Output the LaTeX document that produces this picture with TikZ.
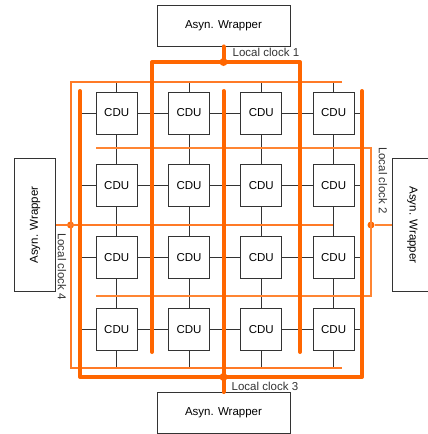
\documentclass[tikz,border=0pt]{standalone}
\usepackage{fontspec}
\setmainfont{Liberation Sans}
\usepackage{tikz}
\usetikzlibrary{positioning, calc}
\definecolor{clockmain}{HTML}{FF6600}
\definecolor{clockthin}{HTML}{FF7A26}
\definecolor{clockfine}{HTML}{FF8533}
\definecolor{darkgray}{HTML}{333333}
\tikzset{
  cdu/.style={
    rectangle, minimum width=41pt, minimum height=42pt, inner sep=0pt,
    draw=darkgray, line width=0.9pt, fill=white,
    font=\fontsize{11.5}{13}\selectfont,
  },
  wrapper/.style={
    rectangle, minimum width=133pt, minimum height=41pt, inner sep=0pt,
    draw=darkgray, line width=0.9pt, fill=white,
    font=\fontsize{11.5}{13}\selectfont,
  },
  link/.style={draw=darkgray, line width=0.8pt},
  clkmain/.style={draw=clockmain, line width=4pt, line cap=round, line join=round},
  clkthin/.style={draw=clockthin, line width=2pt},
  clkfine/.style={draw=clockfine, line width=1.6pt},
  clkdot/.style={circle, fill=clockmain, inner sep=0pt, minimum size=8pt},
  clklabel/.style={font=\fontsize{11.5}{13}\selectfont, inner sep=0pt, text=darkgray},
}

\begin{document}
\begin{tikzpicture}[x=1pt, y=-1pt, node distance=30pt]
  \useasboundingbox (0,0) rectangle (428,434);

  % CDU grid
  \node[cdu] (cdu11) at (116.7,113) {CDU};
  \node[cdu, right=30.4pt of cdu11] (cdu12) {CDU};
  \node[cdu, right=30.4pt of cdu12] (cdu13) {CDU};
  \node[cdu, right=30.4pt of cdu13] (cdu14) {CDU};
  \node[cdu, below=29.3pt of cdu11] (cdu21) {CDU};
  \node[cdu, right=30.4pt of cdu21] (cdu22) {CDU};
  \node[cdu, right=30.4pt of cdu22] (cdu23) {CDU};
  \node[cdu, right=30.4pt of cdu23] (cdu24) {CDU};
  \node[cdu, below=29.3pt of cdu21] (cdu31) {CDU};
  \node[cdu, right=30.4pt of cdu31] (cdu32) {CDU};
  \node[cdu, right=30.4pt of cdu32] (cdu33) {CDU};
  \node[cdu, right=30.4pt of cdu33] (cdu34) {CDU};
  \node[cdu, below=29.3pt of cdu31] (cdu41) {CDU};
  \node[cdu, right=30.4pt of cdu41] (cdu42) {CDU};
  \node[cdu, right=30.4pt of cdu42] (cdu43) {CDU};
  \node[cdu, right=30.4pt of cdu43] (cdu44) {CDU};

  % wrappers
  \node[wrapper] (wrapN) at (223.5,25.5) {Asyn. Wrapper};
  \node[wrapper] (wrapS) at (223.5,413) {Asyn. Wrapper};
  \node[wrapper, rotate=90] (wrapW) at (35,225) {Asyn. Wrapper};
  \node[wrapper, rotate=-90] (wrapE) at (412.5,225) {Asyn. Wrapper};

  % clock taps
  \node[clkdot] (dotN) at (223.5,62) {};
  \node[clkdot] (dotS) at (223.5,377) {};
  \node[clkdot, minimum size=7pt] (dotW) at (70.5,225) {};
  \node[clkdot, minimum size=7pt] (dotE) at (371,225) {};

  \coordinate (k1w) at (152,352);
  \coordinate (k1e) at (300,352);
  \coordinate (k3w) at (80,91);
  \coordinate (k3e) at (362,91);
  \coordinate (k3m) at (223.5,91);
  \coordinate (k4n) at (342,82);
  \coordinate (k4s) at (342,368);
  \coordinate (k4m) at (333,225);
  \coordinate (k2n) at (96,148);
  \coordinate (k2s) at (96,296);

  % mesh links
  \draw[link] (cdu11 -| k3w) -- (cdu11) -- (cdu12) -- (cdu13) -- (cdu14) -- (cdu14 -| k3e);
  \draw[link] (cdu21 -| k3w) -- (cdu21) -- (cdu22) -- (cdu23) -- (cdu24) -- (cdu24 -| k3e);
  \draw[link] (cdu31 -| k3w) -- (cdu31) -- (cdu32) -- (cdu33) -- (cdu34) -- (cdu34 -| k3e);
  \draw[link] (cdu41 -| k3w) -- (cdu41) -- (cdu42) -- (cdu43) -- (cdu44) -- (cdu44 -| k3e);
  \draw[link] (cdu11 |- k4n) -- (cdu11) -- (cdu21) -- (cdu31) -- (cdu41) -- (cdu41 |- k4s);
  \draw[link] (cdu12 |- k4n) -- (cdu12) -- (cdu22) -- (cdu32) -- (cdu42) -- (cdu42 |- k4s);
  \draw[link] (cdu13 |- k4n) -- (cdu13) -- (cdu23) -- (cdu33) -- (cdu43) -- (cdu43 |- k4s);
  \draw[link] (cdu14 |- k4n) -- (cdu14) -- (cdu24) -- (cdu34) -- (cdu44) -- (cdu44 |- k4s);

  % local clock 4
  \draw[clkthin] (k4n) -- (k4n -| dotW) -- (k4s -| dotW) -- (k4s);
  \draw[clkthin] (wrapW) -- (k4m);
  % local clock 2
  \draw[clkfine] (k2n) -- (k2n -| dotE) -- (k2s -| dotE) -- (k2s);
  \draw[clkfine] (dotE) -- (wrapE);
  % local clock 1
  \draw[clkmain] (k1w) -- (k1w |- dotN) -- (k1e |- dotN) -- (k1e);
  \draw[clkmain] (wrapN) -- (dotN.center);
  % local clock 3
  \draw[clkmain] (k3w) -- (k3w |- dotS) -- (k3e |- dotS) -- (k3e);
  \draw[clkmain] (k3m) -- (dotS.center) -- (wrapS);

  \node[clklabel, anchor=west] (lblN) at (232.5,52.5) {Local clock 1};
  \node[clklabel, anchor=west] (lblS) at (231.5,386.5) {Local clock 3};
  \node[clklabel, anchor=west, rotate=-90] (lblW) at (62,233) {Local clock 4};
  \node[clklabel, anchor=west, rotate=-90] (lblE) at (383,147) {Local clock 2};

\end{tikzpicture}
\end{document}
